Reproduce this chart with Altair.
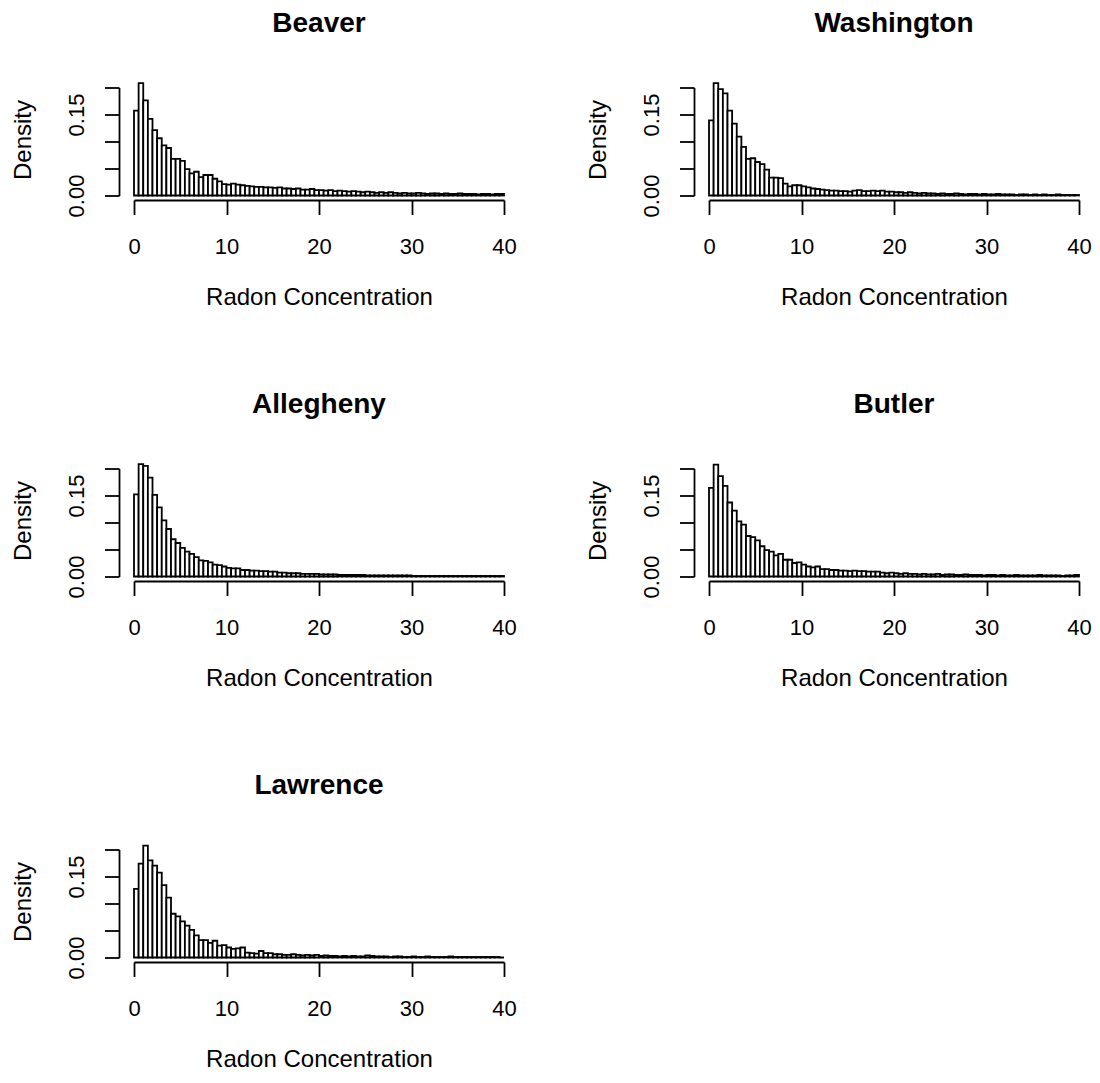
import altair as alt
import numpy as np
import pandas as pd

# Histogram densities (bin width 0.5 from 0 to 40)
beaver = [0.157,0.208,0.176,0.142,0.121,0.106,0.093,0.088,0.068,0.068,0.064,0.049,0.041,0.044,0.034,0.038,0.038,0.031,0.026,0.021,
          0.020,0.022,0.020,0.019,0.018,0.017,0.016,0.016,0.015,0.015,0.014,0.015,0.013,0.013,0.012,0.013,0.011,0.011,0.012,0.010,
          0.010,0.009,0.010,0.008,0.009,0.008,0.007,0.008,0.007,0.006,0.007,0.006,0.005,0.006,0.005,0.006,0.005,0.004,0.005,0.004,
          0.004,0.005,0.004,0.003,0.004,0.004,0.003,0.004,0.003,0.003,0.004,0.003,0.003,0.003,0.002,0.003,0.003,0.002,0.003,0.003]
washington = [0.139,0.208,0.197,0.189,0.157,0.133,0.109,0.090,0.068,0.069,0.062,0.058,0.048,0.033,0.033,0.032,0.022,0.017,0.019,0.019,
              0.017,0.015,0.013,0.012,0.011,0.010,0.009,0.009,0.008,0.008,0.007,0.009,0.010,0.008,0.008,0.009,0.008,0.009,0.007,0.007,
              0.006,0.006,0.005,0.006,0.005,0.004,0.005,0.004,0.004,0.003,0.004,0.003,0.003,0.004,0.003,0.002,0.003,0.003,0.002,0.003,
              0.002,0.002,0.003,0.002,0.002,0.002,0.001,0.002,0.002,0.001,0.002,0.001,0.002,0.001,0.001,0.002,0.001,0.001,0.001,0.001]
allegheny = [0.152,0.208,0.205,0.183,0.151,0.128,0.104,0.088,0.069,0.062,0.053,0.046,0.042,0.036,0.030,0.029,0.026,0.022,0.021,0.0185,
             0.016,0.015,0.015,0.012,0.012,0.011,0.011,0.010,0.010,0.009,0.009,0.007,0.007,0.006,0.006,0.006,0.005,0.005,0.005,0.005,
             0.004,0.004,0.004,0.004,0.003,0.003,0.003,0.003,0.003,0.003,0.002,0.002,0.002,0.002,0.002,0.002,0.002,0.002,0.002,0.002,
             0.001,0.001,0.001,0.001,0.001,0.001,0.001,0.001,0.001,0.001,0.001,0.001,0.001,0.001,0.001,0.001,0.001,0.001,0.001,0.001]
butler = [0.164,0.207,0.186,0.168,0.137,0.122,0.102,0.096,0.075,0.073,0.067,0.056,0.049,0.046,0.039,0.042,0.031,0.031,0.025,0.026,
          0.022,0.0185,0.017,0.0185,0.0135,0.0135,0.012,0.012,0.011,0.011,0.010,0.011,0.010,0.010,0.009,0.009,0.009,0.007,0.006,0.007,
          0.006,0.005,0.006,0.005,0.005,0.004,0.005,0.004,0.004,0.005,0.003,0.004,0.004,0.003,0.003,0.004,0.003,0.003,0.003,0.002,
          0.003,0.003,0.002,0.003,0.002,0.002,0.003,0.002,0.002,0.002,0.002,0.003,0.002,0.002,0.002,0.002,0.001,0.002,0.002,0.003]
lawrence = [0.127,0.174,0.207,0.180,0.170,0.157,0.134,0.111,0.081,0.076,0.067,0.059,0.051,0.041,0.032,0.032,0.027,0.031,0.022,0.023,
            0.0185,0.016,0.017,0.0185,0.009,0.008,0.007,0.012,0.008,0.008,0.006,0.006,0.005,0.005,0.006,0.005,0.004,0.005,0.004,0.005,
            0.003,0.004,0.003,0.003,0.002,0.003,0.002,0.003,0.002,0.002,0.004,0.003,0.002,0.002,0.002,0.001,0.002,0.002,0.001,0.001,
            0.002,0.001,0.001,0.002,0.001,0.001,0.001,0.001,0.002,0.001,0.001,0.001,0.001,0.001,0.001,0.001,0.001,0.001,0.001,0.000]

counties = ["Beaver", "Washington", "Allegheny", "Butler", "Lawrence"]
series = [beaver, washington, allegheny, butler, lawrence]
x_ticks = [0, 10, 20, 30, 40]
y_ticks = [0.0, 0.05, 0.10, 0.15, 0.20]
bin_width = 0.5

FONT = "Liberation Sans"
W, H = 370, 108
LW = 1.8


def panel(name, vals):
    left = [i * bin_width for i in range(len(vals))]
    df = pd.DataFrame({
        "x0": left,
        "x1": [v + bin_width for v in left],
        "density": vals,
        "base": [0.0] * len(vals),
    })
    xaxis = alt.Axis(
        values=x_ticks, title="Radon Concentration", grid=False,
        offset=4.5, tickSize=14.5, tickWidth=LW, domainWidth=LW,
        domainColor="black", tickColor="black",
        labelFont=FONT, labelFontSize=22, labelColor="black",
        labelBaseline="alphabetic", labelPadding=39, labelOverlap=False,
        labelFlush=False,
        titleFont=FONT, titleFontSize=24, titleFontWeight="normal",
        titleColor="black", titleBaseline="alphabetic", titleY=104, titleX=W / 2,
    )
    yaxis = alt.Axis(
        values=y_ticks, title="Density", grid=False,
        offset=15, tickSize=14.5, tickWidth=LW, domainWidth=LW,
        domainColor="black", tickColor="black",
        labelExpr="(datum.value == 0 || datum.value == 0.15) ? format(datum.value, '.2f') : ''",
        labelFont=FONT, labelFontSize=22, labelColor="black",
        labelAngle=270, labelAlign="center", labelBaseline="alphabetic",
        labelPadding=21.5, labelOverlap=False, labelFlush=False,
        titleFont=FONT, titleFontSize=24, titleFontWeight="normal",
        titleColor="black", titleAngle=270, titleAlign="center",
        titleBaseline="alphabetic", titleX=-89, titleY=52,
    )
    return alt.Chart(
        df,
        title=alt.TitleParams(name, font=FONT, fontSize=28, fontWeight="bold",
                              color="black", anchor="middle", offset=44.5),
    ).mark_rect(fill="white", stroke="black", strokeWidth=LW).encode(
        x=alt.X("x0:Q", scale=alt.Scale(domain=[0, 40], nice=False, zero=False), axis=xaxis),
        x2="x1:Q",
        y=alt.Y("density:Q", scale=alt.Scale(domain=[0, 0.2], nice=False), axis=yaxis),
        y2="base:Q",
    ).properties(width=W, height=H)


charts = [panel(n, v) for n, v in zip(counties, series)]
chart = alt.concat(*charts, columns=2, spacing={"row": 81, "column": 69}).properties(
    padding={"left": 3, "top": 1.5, "right": 0, "bottom": 1}
).configure_view(stroke=None)

chart.save("out.html", embed_options={"renderer": "svg", "actions": False})
